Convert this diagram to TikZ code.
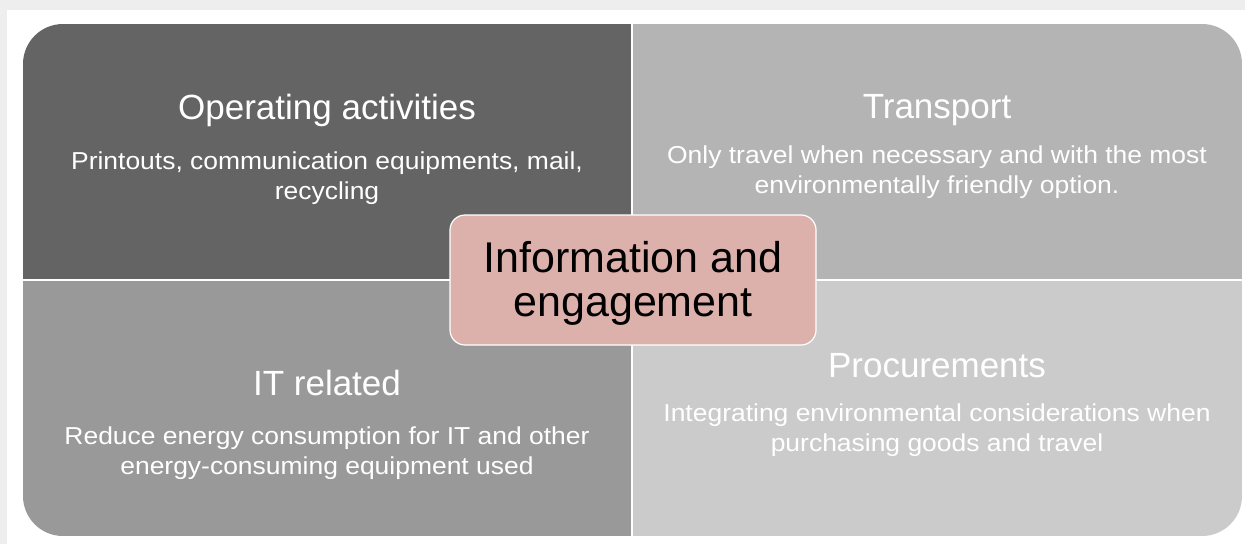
\documentclass[tikz,border=0pt]{standalone}
\usepackage{fontspec}
\setmainfont{Liberation Sans}
\newfontfamily\descfont{Liberation Sans}[FakeStretch=1.08]
\definecolor{pagegray}{HTML}{EEEEEE}
\definecolor{opgray}{HTML}{646464}
\definecolor{transgray}{HTML}{B4B4B4}
\definecolor{itgray}{HTML}{999999}
\definecolor{procgray}{HTML}{CBCBCB}
\definecolor{infopink}{HTML}{DDB1AB}
\tikzset{
  quadtitle/.style={text=white, font=\fontsize{35}{40}\selectfont},
  quaddesc/.style={text=white, align=center, font=\descfont\fontsize{24.5}{30}\selectfont},
  infobox/.style={draw=white, line width=1.2pt, fill=infopink, rounded corners=15pt,
    minimum width=366pt, minimum height=130pt},
  infotext/.style={align=center, font=\fontsize{43}{44}\selectfont},
}
\begin{document}
\begin{tikzpicture}[x=1pt, y=-1pt]
  \def\xl{23} \def\xm{632} \def\xr{1242}
  \def\yt{24} \def\ym{280} \def\yb{536}
  \useasboundingbox (0,0) rectangle (1245,544);
  \fill[pagegray] (0,0) rectangle (1245,544);
  \fill[white] (7,10) rectangle (1245,544);
  % the four quadrants, outer corners rounded
  \begin{scope}
    \clip[rounded corners=40pt] (\xl,\yt) rectangle (\xr,\yb);
    \fill[opgray] (\xl,\yt) rectangle (\xm,\ym);
    \fill[transgray] (\xm,\yt) rectangle (\xr,\ym);
    \fill[itgray] (\xl,\ym) rectangle (\xm,\yb);
    \fill[procgray] (\xm,\ym) rectangle (\xr,\yb);
    \draw[white, line width=2pt] (\xm,\yt) -- (\xm,\yb);
    \draw[white, line width=2pt] (\xl,\ym) -- (\xr,\ym);
  \end{scope}
  % texts
  \node[quadtitle] (optitle) at (327,110) {Operating activities};
  \node[quaddesc] (opdesc) at (327,178) {Printouts, communication equipments, mail,\\recycling};
  \node[quadtitle] (transtitle) at (937,110) {Transport};
  \node[quaddesc] (transdesc) at (937,172.5) {Only travel when necessary and with the most\\environmentally friendly option.};
  \node[quadtitle] (ittitle) at (327,383) {IT related};
  \node[quaddesc] (itdesc) at (327,453) {Reduce energy consumption for IT and other\\energy-consuming equipment used};
  \node[quadtitle] (proctitle) at (937,366) {Procurements};
  \node[quaddesc] (procdesc) at (937,430.5) {Integrating environmental considerations when\\purchasing goods and travel};
  % centre box
  \node[infobox] (info) at (633,280) {};
  \node[infotext, yshift=-3.5pt] (infolabel) at (info.center) {Information and\\engagement};
\end{tikzpicture}
\end{document}
